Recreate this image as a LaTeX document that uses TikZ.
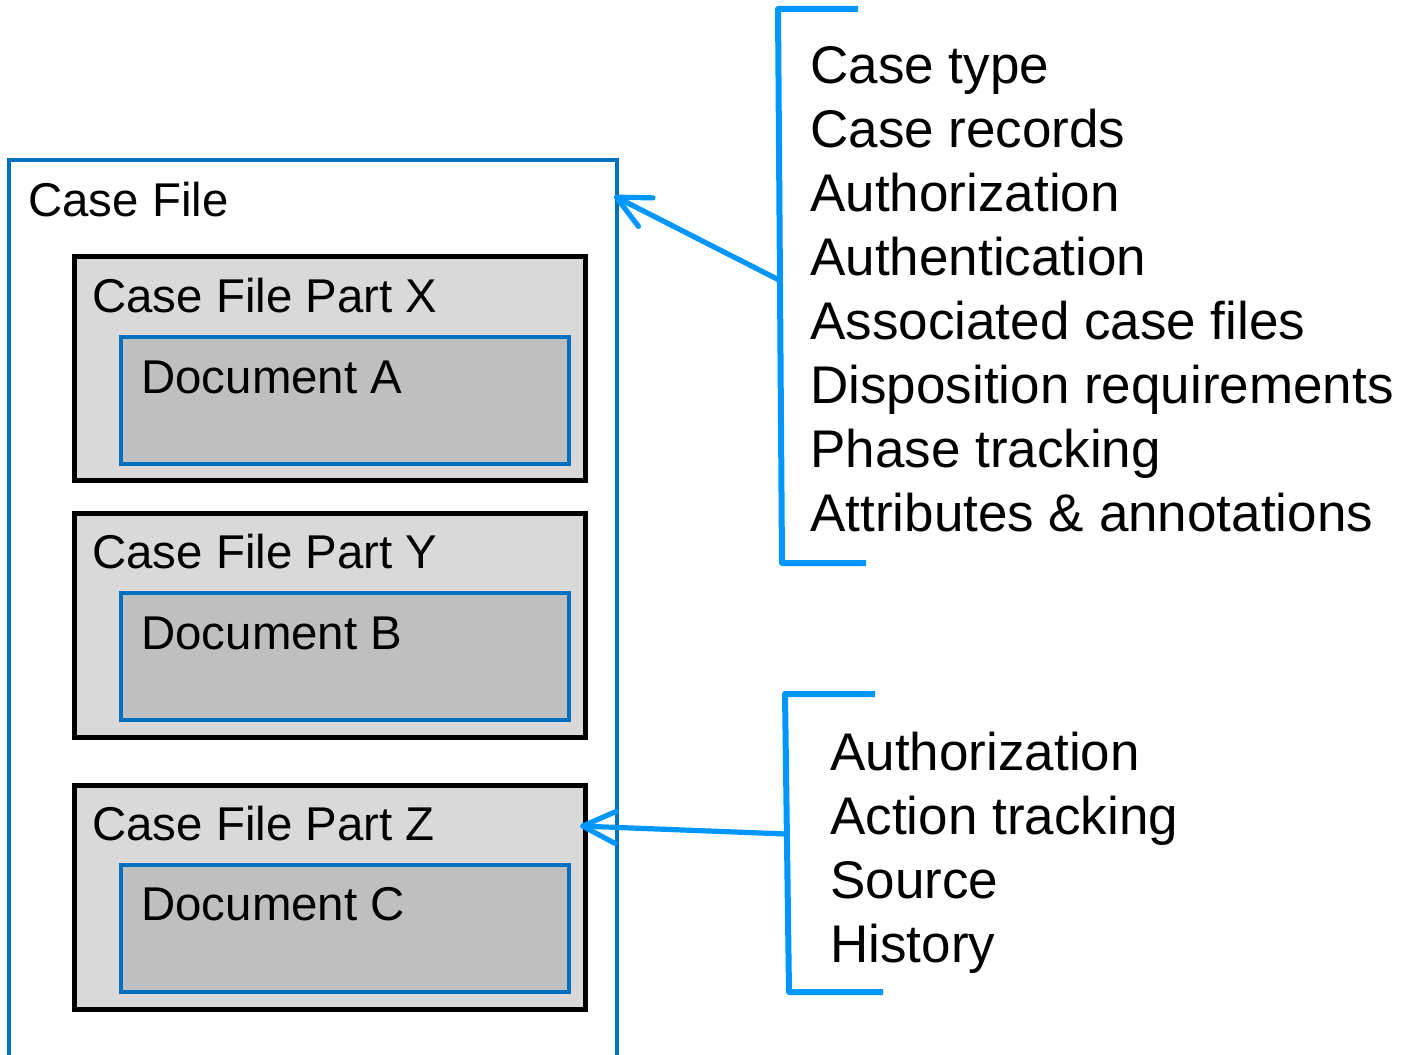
\documentclass[tikz,border=0pt]{standalone}
\usepackage{fontspec}
\setmainfont{Liberation Sans}
\usetikzlibrary{arrows.meta}
\definecolor{cFrame}{HTML}{0070C0}
\definecolor{cBrk}{HTML}{0096FF}
\definecolor{cPart}{HTML}{D9D9D9}
\definecolor{cDoc}{HTML}{BFBFBF}
\tikzset{
  framebox/.style={draw=cFrame, line width=2.2pt, anchor=north west,
                   inner sep=0pt, outer sep=0pt},
  partbox/.style={draw=black, line width=2.5pt, fill=cPart, anchor=north west,
                  minimum width=255.5pt, minimum height=112pt,
                  inner sep=0pt, outer sep=0pt},
  docbox/.style={draw=cFrame, line width=2.2pt, fill=cDoc, anchor=north west,
                 minimum width=224pt, minimum height=63.5pt,
                 inner sep=0pt, outer sep=0pt},
  lbl/.style={anchor=base west, inner sep=0pt, font=\fontsize{23.7}{28}\selectfont},
  lst/.style={anchor=north west, inner sep=0pt, align=left,
              font=\fontsize{26.5}{32}\selectfont},
  brk/.style={cBrk, line width=3pt, line join=round},
  ar/.style={cBrk, line width=2.6pt, line cap=round,
             -{Straight Barb[length=16.5pt, width=16pt, round]}}
}
\begin{document}
\begin{tikzpicture}[x=0.5pt, y=-0.5pt]
\useasboundingbox (0,0) rectangle (1401,1054);
% case file and its parts
\node[framebox, minimum width=304pt, minimum height=460pt] (cf) at (9,160) {};
\node[lbl] (cflbl) at (28,216) {Case File};
\node[partbox] (px) at (74,256) {};
\node[docbox] (da) at (121,337) {};
\node[lbl] (pxlbl) at (92,312) {Case File Part X};
\node[lbl] (dalbl) at (141,393) {Document A};
\node[partbox] (py) at (74,513) {};
\node[docbox] (db) at (121,593) {};
\node[lbl] (pylbl) at (92,568) {Case File Part Y};
\node[lbl] (dblbl) at (141,649) {Document B};
\node[partbox] (pz) at (74,785) {};
\node[docbox] (dc) at (121,865) {};
\node[lbl] (pzlbl) at (92,840) {Case File Part Z};
\node[lbl] (dclbl) at (141,920) {Document C};
% metadata lists
\node[lst] (filemeta) at (810,46) {Case type\\Case records\\Authorization\\Authentication\\Associated case files\\Disposition requirements\\Phase tracking\\Attributes \& annotations};
\node[lst] (partmeta) at (830,732) {Authorization\\Action tracking\\Source\\History};
\draw[brk] (858,9) -- (778,9) -- (782,563) -- (866,563);
\draw[brk] (875,694) -- (785,694) -- (789,992) -- (883,992);
\coordinate (brkA) at (779,280);
\coordinate (tipA) at (614,196);
\coordinate (brkB) at (786,834);
\coordinate (tipB) at (580,826);
\draw[ar] (brkA) -- (tipA);
\draw[ar] (brkB) -- (tipB);
\end{tikzpicture}
\end{document}
